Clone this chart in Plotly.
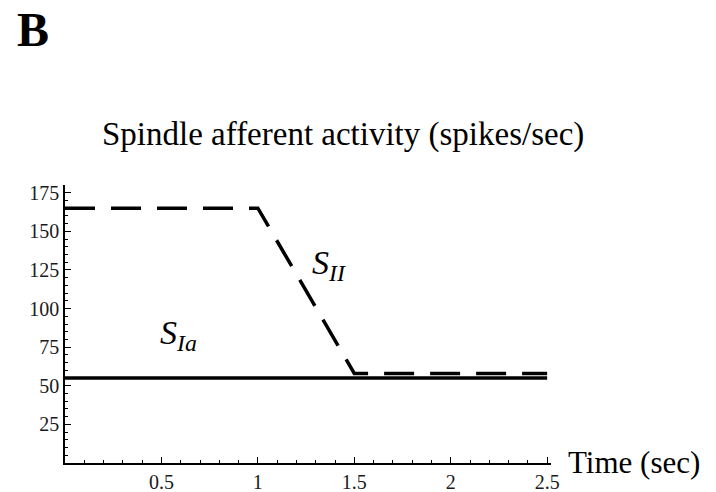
import plotly.graph_objects as go

# Data
t_ia = [0, 2.5]
s_ia = [55, 55]
t_ii = [0, 1.0, 1.5, 2.5]
s_ii = [165, 165, 58, 58]

x_ticks = [0.5, 1, 1.5, 2, 2.5]
x_ticklabels = ["0.5", "1", "1.5", "2", "2.5"]
y_ticks = [25, 50, 75, 100, 125, 150, 175]
y_ticklabels = ["25", "50", "75", "100", "125", "150", "175"]

SERIF = "Liberation Serif, Times New Roman, serif"

fig = go.Figure()
fig.add_trace(go.Scatter(x=t_ia, y=s_ia, mode="lines",
                         line=dict(color="black", width=3.5), showlegend=False))
fig.add_trace(go.Scatter(x=t_ii, y=s_ii, mode="lines",
                         line=dict(color="black", width=3.5, dash="30px,16px"), showlegend=False))

axis_common = dict(showgrid=False, zeroline=False, showline=True, linecolor="black",
                   linewidth=1.5, ticks="inside", ticklen=6, tickcolor="black", tickwidth=1.2,
                   automargin=False,
                   tickfont=dict(family=SERIF, size=20, color="#1a1a1a"))

fig.update_xaxes(range=[0, 2.52], tickvals=x_ticks, ticktext=x_ticklabels,
                 minor=dict(dtick=0.1, ticks="inside", ticklen=3, tickcolor="black", tick0=0),
                 **axis_common)
fig.update_yaxes(range=[0, 180], tickvals=y_ticks, ticktext=y_ticklabels,
                 minor=dict(dtick=5, ticks="inside", ticklen=3, tickcolor="black", tick0=0),
                 **axis_common)

fig.add_annotation(x=0.59, y=83, xref="x", yref="y", text="<i>S<sub>Ia</sub></i>",
                   showarrow=False, font=dict(family=SERIF, size=34, color="black"))
fig.add_annotation(x=1.37, y=128, xref="x", yref="y", text="<i>S<sub>II</sub></i>",
                   showarrow=False, font=dict(family=SERIF, size=34, color="black"))

W, H = 716, 492
L, R, T, B = 65, 165, 185, 29

def px(xp, yp):
    return (xp - L) / (W - L - R), (H - B - yp) / (H - T - B)

def paper_text(xp, yp, text, size, xanchor="center", bold=False):
    nx, ny = px(xp, yp)
    fig.add_annotation(x=nx, y=ny, xref="paper", yref="paper",
                       text=f"<b>{text}</b>" if bold else text,
                       xanchor=xanchor, yanchor="middle", showarrow=False,
                       font=dict(family=SERIF, size=size, color="black"))

paper_text(566, 462, "Time (sec)", 31, xanchor="left")
paper_text(343, 134, "Spindle afferent activity (spikes/sec)", 33)
paper_text(33, 30, "B", 48, bold=True)

fig.update_layout(width=W, height=H, margin=dict(l=L, r=R, t=T, b=B, autoexpand=False),
                  plot_bgcolor="white", paper_bgcolor="white")

fig.write_html("out.html")
